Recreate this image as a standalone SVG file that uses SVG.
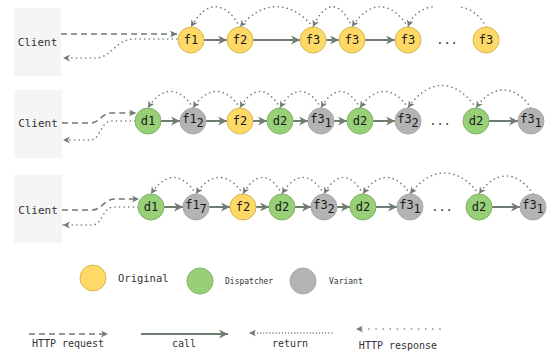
<svg xmlns="http://www.w3.org/2000/svg" width="550" height="352" viewBox="0 0 550 352">
<style>
.client{fill:#f5f5f5;stroke:none}
.ctext{font-family:"DejaVu Sans Mono","Liberation Mono",monospace;font-size:11px;fill:#333;text-anchor:middle;dominant-baseline:central}
.orig{fill:#ffd966;stroke:#d6b656;stroke-width:1}
.disp{fill:#97d077;stroke:#82b366;stroke-width:1}
.var{fill:#b3b3b3;stroke:#a8a8a8;stroke-width:1}
.nt{font-family:"DejaVu Sans Mono","Liberation Mono",monospace;font-size:12px;fill:#1a1a1a;text-anchor:middle}
.call{fill:none;stroke:#6f7c6f;stroke-width:2}
.req{fill:none;stroke:#6f7c6f;stroke-width:1.6;stroke-dasharray:6 4}
.ret{fill:none;stroke:#6f7c6f;stroke-width:1.6;stroke-dasharray:0.1 4.5;stroke-linecap:round}
.resp{fill:none;stroke:#6f7c6f;stroke-width:1.6;stroke-dasharray:0.1 7;stroke-linecap:round}
.ret2{fill:none;stroke:#6f7c6f;stroke-width:1.4;stroke-dasharray:0.1 3;stroke-linecap:round}
.lt{font-family:"DejaVu Sans Mono","Liberation Mono",monospace;font-size:10px;fill:#333;text-anchor:middle}
.lg{font-family:"DejaVu Sans Mono","Liberation Mono",monospace;fill:#333}
.dots{font-family:"DejaVu Sans Mono",monospace;font-size:12px;fill:#333;text-anchor:middle}
</style>
<defs>
<marker id="a" viewBox="0 0 10 10" refX="10" refY="5" markerWidth="9" markerHeight="9" markerUnits="userSpaceOnUse" orient="auto">
<path d="M0,0 L10,5 L0,10 L3,5 z" fill="#6f7c6f"/>
</marker>
<marker id="s" viewBox="0 0 10 10" refX="10" refY="5" markerWidth="7" markerHeight="7" markerUnits="userSpaceOnUse" orient="auto">
<path d="M0,0 L10,5 L0,10 L3,5 z" fill="#6f7c6f"/>
</marker>
</defs>

<g id="client1"><rect class="client" x="14" y="8" width="47" height="68"/><text class="ctext" x="37.5" y="42">Client</text></g>
<g id="client2"><rect class="client" x="14" y="90" width="48" height="68"/><text class="ctext" x="38" y="123">Client</text></g>
<g id="client3"><rect class="client" x="14" y="175" width="48" height="68"/><text class="ctext" x="38" y="210">Client</text></g>

<g id="connectors">
<!-- row 1 -->
<path class="req" d="M61,34 L177,34" marker-end="url(#s)"/>
<path class="ret" d="M177,39 L135,39 C115,39 112,58 95,58 L63,58" marker-end="url(#s)"/>
<path class="call" d="M204,40 L227,40" marker-end="url(#a)"/>
<path class="call" d="M253,40 L300,40" marker-end="url(#a)"/>
<path class="call" d="M326,40 L339,40" marker-end="url(#a)"/>
<path class="call" d="M365,40 L395,40" marker-end="url(#a)"/>
<path class="ret" d="M240,27 C225,0 206,0 191,27" marker-end="url(#s)"/>
<path class="ret" d="M313,27 C291,0 262,0 240,27" marker-end="url(#s)"/>
<path class="ret" d="M352,27 C340,0 325,0 313,27" marker-end="url(#s)"/>
<path class="ret" d="M408,27 C391,0 369,0 352,27" marker-end="url(#s)"/>
<path class="ret" d="M432,7 C422,8 412,15 408,27" marker-end="url(#s)"/>
<path class="ret" d="M486,27 C480,15 470,8 460,7"/>
<!-- row 2 -->
<path class="req" d="M62,123 L90,123 C100,123 101,113 112,113 L136,113" marker-end="url(#s)"/>
<path class="ret" d="M135,121 L112,121 C100,121 101,140 90,140 L63,140" marker-end="url(#s)"/>
<path class="call" d="M161,121 L180,121" marker-end="url(#a)"/>
<path class="call" d="M206,121 L227,121" marker-end="url(#a)"/>
<path class="call" d="M253,121 L267,121" marker-end="url(#a)"/>
<path class="call" d="M293,121 L308,121" marker-end="url(#a)"/>
<path class="call" d="M334,121 L347,121" marker-end="url(#a)"/>
<path class="call" d="M373,121 L395,121" marker-end="url(#a)"/>
<path class="call" d="M489,121 L518,121" marker-end="url(#a)"/>
<path class="ret" d="M193,108 C180,86 161,86 148,108" marker-end="url(#s)"/>
<path class="ret" d="M240,108 C226,86 207,86 193,108" marker-end="url(#s)"/>
<path class="ret" d="M280,108 C268,86 252,86 240,108" marker-end="url(#s)"/>
<path class="ret" d="M321,108 C309,86 292,86 280,108" marker-end="url(#s)"/>
<path class="ret" d="M360,108 C348,86 333,86 321,108" marker-end="url(#s)"/>
<path class="ret" d="M408,108 C394,86 374,86 360,108" marker-end="url(#s)"/>
<path class="ret" d="M476,108 C456,78 428,78 408,108" marker-end="url(#s)"/>
<path class="ret" d="M531,108 C515,84 492,84 476,108" marker-end="url(#s)"/>
<!-- row 3 -->
<path class="req" d="M62,210 L92,210 C102,210 104,199 115,199 L139,199" marker-end="url(#s)"/>
<path class="ret" d="M138,207 L114,207 C102,207 103,225 92,225 L63,225" marker-end="url(#s)"/>
<path class="call" d="M164,207 L183,207" marker-end="url(#a)"/>
<path class="call" d="M209,207 L230,207" marker-end="url(#a)"/>
<path class="call" d="M256,207 L269,207" marker-end="url(#a)"/>
<path class="call" d="M295,207 L311,207" marker-end="url(#a)"/>
<path class="call" d="M337,207 L350,207" marker-end="url(#a)"/>
<path class="call" d="M376,207 L397,207" marker-end="url(#a)"/>
<path class="call" d="M492,207 L520,207" marker-end="url(#a)"/>
<path class="ret" d="M196,194 C182,172 165,172 151,194" marker-end="url(#s)"/>
<path class="ret" d="M243,194 C229,172 210,172 196,194" marker-end="url(#s)"/>
<path class="ret" d="M282,194 C270,172 255,172 243,194" marker-end="url(#s)"/>
<path class="ret" d="M324,194 C311,172 295,172 282,194" marker-end="url(#s)"/>
<path class="ret" d="M363,194 C351,172 336,172 324,194" marker-end="url(#s)"/>
<path class="ret" d="M410,194 C396,172 377,172 363,194" marker-end="url(#s)"/>
<path class="ret" d="M479,194 C458,166 431,166 410,194" marker-end="url(#s)"/>
<path class="ret" d="M533,194 C517,170 495,170 479,194" marker-end="url(#s)"/>
<!-- legend lines -->
<path class="req" d="M29,334 L108,334" marker-end="url(#s)"/>
<path class="call" d="M141,334 L228,334" marker-end="url(#a)"/>
<path class="ret2" d="M332,333 L249,333" marker-end="url(#s)"/>
<path class="resp" d="M440,329 L356,329" marker-end="url(#s)"/>
</g>

<!-- row 1 nodes -->
<g id="r1f1"><circle class="orig" cx="191" cy="40" r="13"/><text class="nt" x="191" y="44">f1</text></g>
<g id="r1f2"><circle class="orig" cx="240" cy="40" r="13"/><text class="nt" x="240" y="44">f2</text></g>
<g id="r1f3a"><circle class="orig" cx="313" cy="40" r="13"/><text class="nt" x="313" y="44">f3</text></g>
<g id="r1f3b"><circle class="orig" cx="352" cy="40" r="13"/><text class="nt" x="352" y="44">f3</text></g>
<g id="r1f3c"><circle class="orig" cx="408" cy="40" r="13"/><text class="nt" x="408" y="44">f3</text></g>
<text class="dots" x="447" y="44">...</text>
<g id="r1f3d"><circle class="orig" cx="486" cy="40" r="13"/><text class="nt" x="486" y="44">f3</text></g>

<!-- row 2 nodes -->
<g id="r2d1"><circle class="disp" cx="148" cy="121" r="13"/><text class="nt" x="148" y="125">d1</text></g>
<g id="r2f1"><circle class="var" cx="193" cy="121" r="13"/><text class="nt" x="193" y="123">f1<tspan dy="4">2</tspan></text></g>
<g id="r2f2"><circle class="orig" cx="240" cy="121" r="13"/><text class="nt" x="240" y="125">f2</text></g>
<g id="r2d2a"><circle class="disp" cx="280" cy="121" r="13"/><text class="nt" x="280" y="125">d2</text></g>
<g id="r2f3a"><circle class="var" cx="321" cy="121" r="13"/><text class="nt" x="321" y="123">f3<tspan dy="4">1</tspan></text></g>
<g id="r2d2b"><circle class="disp" cx="360" cy="121" r="13"/><text class="nt" x="360" y="125">d2</text></g>
<g id="r2f3b"><circle class="var" cx="408" cy="121" r="13"/><text class="nt" x="408" y="123">f3<tspan dy="4">2</tspan></text></g>
<text class="dots" x="440" y="125">...</text>
<g id="r2d2c"><circle class="disp" cx="476" cy="121" r="13"/><text class="nt" x="476" y="125">d2</text></g>
<g id="r2f3c"><circle class="var" cx="531" cy="121" r="13"/><text class="nt" x="531" y="123">f3<tspan dy="4">1</tspan></text></g>

<!-- row 3 nodes -->
<g id="r3d1"><circle class="disp" cx="151" cy="207" r="13"/><text class="nt" x="151" y="211">d1</text></g>
<g id="r3f1"><circle class="var" cx="196" cy="207" r="13"/><text class="nt" x="196" y="209">f1<tspan dy="4">7</tspan></text></g>
<g id="r3f2"><circle class="orig" cx="243" cy="207" r="13"/><text class="nt" x="243" y="211">f2</text></g>
<g id="r3d2a"><circle class="disp" cx="282" cy="207" r="13"/><text class="nt" x="282" y="211">d2</text></g>
<g id="r3f3a"><circle class="var" cx="324" cy="207" r="13"/><text class="nt" x="324" y="209">f3<tspan dy="4">2</tspan></text></g>
<g id="r3d2b"><circle class="disp" cx="363" cy="207" r="13"/><text class="nt" x="363" y="211">d2</text></g>
<g id="r3f3b"><circle class="var" cx="410" cy="207" r="13"/><text class="nt" x="410" y="209">f3<tspan dy="4">1</tspan></text></g>
<text class="dots" x="442" y="211">...</text>
<g id="r3d2c"><circle class="disp" cx="479" cy="207" r="13"/><text class="nt" x="479" y="211">d2</text></g>
<g id="r3f3c"><circle class="var" cx="533" cy="207" r="13"/><text class="nt" x="533" y="209">f3<tspan dy="4">1</tspan></text></g>

<!-- legend -->
<g id="legOriginal"><circle class="orig" cx="93" cy="278" r="13"/><text class="lg" x="118" y="282" font-size="10.5">Original</text></g>
<g id="legDispatcher"><circle class="disp" cx="200" cy="281" r="13"/><text class="lg" x="225" y="284" font-size="8">Dispatcher</text></g>
<g id="legVariant"><circle class="var" cx="303" cy="281" r="13"/><text class="lg" x="329" y="284" font-size="8">Variant</text></g>
<text class="lt" x="68" y="347">HTTP request</text>
<text class="lt" x="184" y="347">call</text>
<text class="lt" x="290" y="347">return</text>
<text class="lt" x="398" y="349">HTTP response</text>
</svg>
